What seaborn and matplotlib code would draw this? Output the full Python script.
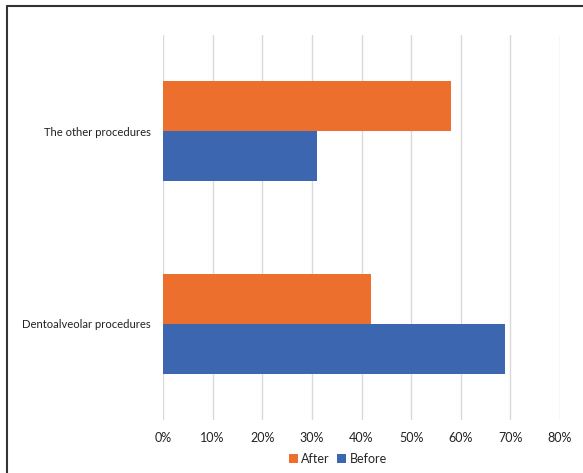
import matplotlib
matplotlib.use("Agg")
import matplotlib.pyplot as plt
import seaborn as sns
import pandas as pd
from matplotlib.lines import Line2D
from matplotlib.patches import Patch

categories = ["The other procedures", "Dentoalveolar procedures"]
after_vals = [0.58, 0.42]
before_vals = [0.31, 0.69]
series = ["After", "Before"]
xticks = [0, 0.1, 0.2, 0.3, 0.4, 0.5, 0.6, 0.7, 0.8]
xtick_labels = ["0%", "10%", "20%", "30%", "40%", "50%", "60%", "70%", "80%"]

colors = {"After": "#EC6F2D", "Before": "#3D66B0"}

df = pd.DataFrame({
    "category": categories * 2,
    "value": after_vals + before_vals,
    "series": ["After"] * len(categories) + ["Before"] * len(categories),
})

sns.set_theme(style="white")
plt.rcParams["font.family"] = ["Lato", "DejaVu Sans"]

W, H = 583, 473
fig = plt.figure(figsize=(W / 100, H / 100), dpi=100)
ax = fig.add_axes([163 / W, 1 - 420 / H, (560 - 163) / W, (420 - 35) / H])

sns.barplot(data=df, y="category", x="value", hue="series", order=categories,
            hue_order=series, palette=colors, orient="h", width=0.52,
            saturation=1, ax=ax, legend=False, edgecolor="none")

ax.set_xlim(0, 0.8)
ax.set_ylim(1.5, -0.5)
ax.set_xticks(xticks)
ax.set_xticklabels(xtick_labels, fontsize=9, color="#222222")
ax.tick_params(axis="y", labelsize=8.1, colors="#222222", length=0, pad=9)
ax.tick_params(axis="x", length=0, pad=9)
ax.set_xlabel("")
ax.set_ylabel("")
ax.grid(axis="x", color="#d9d9d9", linewidth=1)
ax.set_axisbelow(True)
for s in ax.spines.values():
    s.set_visible(False)

handles = [Patch(facecolor=colors[s], edgecolor="none") for s in series]
fig.legend(handles, series, loc="center", bbox_to_anchor=(338 / W, 1 - 459 / H),
           ncol=2, frameon=False, fontsize=9, handlelength=0.7, handleheight=0.7,
           handletextpad=0.3, columnspacing=0.6)

# outer frame (left and top edges)
fig.add_artist(Line2D([7 / W, 7 / W], [0, 1 - 6 / H], transform=fig.transFigure,
                      color="#333333", linewidth=1.5))
fig.add_artist(Line2D([7 / W, 1], [1 - 6 / H, 1 - 6 / H], transform=fig.transFigure,
                      color="#333333", linewidth=1.5))

fig.savefig("out.png", dpi=100, facecolor="white")
